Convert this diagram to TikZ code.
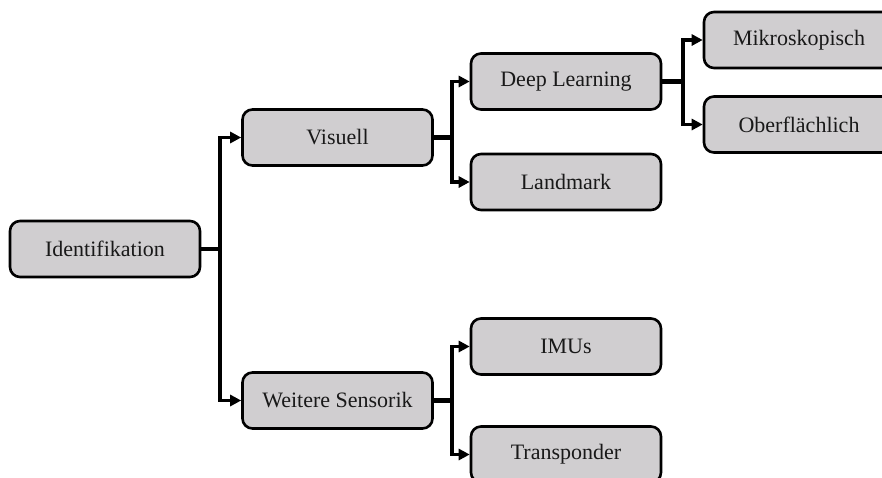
\documentclass[tikz,border=0pt]{standalone}
\usepackage{fontspec}
\setmainfont{Liberation Serif}
\usetikzlibrary{arrows.meta}
\definecolor{boxgray}{RGB}{208,206,208}
\tikzset{
  box/.style={draw=black, line width=2.6pt, fill=boxgray, rounded corners=10pt,
    minimum width=190pt, minimum height=56pt, inner sep=0pt,
    font=\fontsize{22}{26}\selectfont, text=black!90},
  stub/.style={line width=4.4pt},
  link/.style={line width=3.2pt, -{Triangle[length=11pt,width=11pt]}},
}
\begin{document}
\begin{tikzpicture}[x=1pt,y=-1pt]
\useasboundingbox (0,0) rectangle (882,477);
\clip (0,0) rectangle (882,477);

% level 0
\node[box] (id)  at (105,249)   {Identifikation};
% level 1
\node[box] (vis) at (337.5,137.5) {Visuell};
\node[box] (wei) at (337.5,400.5) {Weitere Sensorik};
% level 2
\node[box] (deep) at (566,81.5)  {Deep Learning};
\node[box] (land) at (566,182)   {Landmark};
\node[box] (imu)  at (566,346.5) {IMUs};
\node[box] (tra)  at (566,454.5) {Transponder};
% level 3
\node[box] (mik) at (799,40)     {Mikroskopisch};
\node[box] (obe) at (799,124.5)  {Oberflächlich};

% branching points
\coordinate (b0) at (220,249);
\coordinate (b1) at (452,137.5);
\coordinate (b2) at (452,400.5);
\coordinate (b3) at (683,81.5);

\draw[stub] (id.east) -- (b0);
\draw[link] (b0) |- (vis.west);
\draw[link] (b0) |- (wei.west);

\draw[stub] (vis.east) -- (b1);
\draw[link] (b1) |- (deep.west);
\draw[link] (b1) |- (land.west);

\draw[stub] (wei.east) -- (b2);
\draw[link] (b2) |- (imu.west);
\draw[link] (b2) |- (tra.west);

\draw[stub] (deep.east) -- (b3);
\draw[link] (b3) |- (mik.west);
\draw[link] (b3) |- (obe.west);
\end{tikzpicture}
\end{document}
